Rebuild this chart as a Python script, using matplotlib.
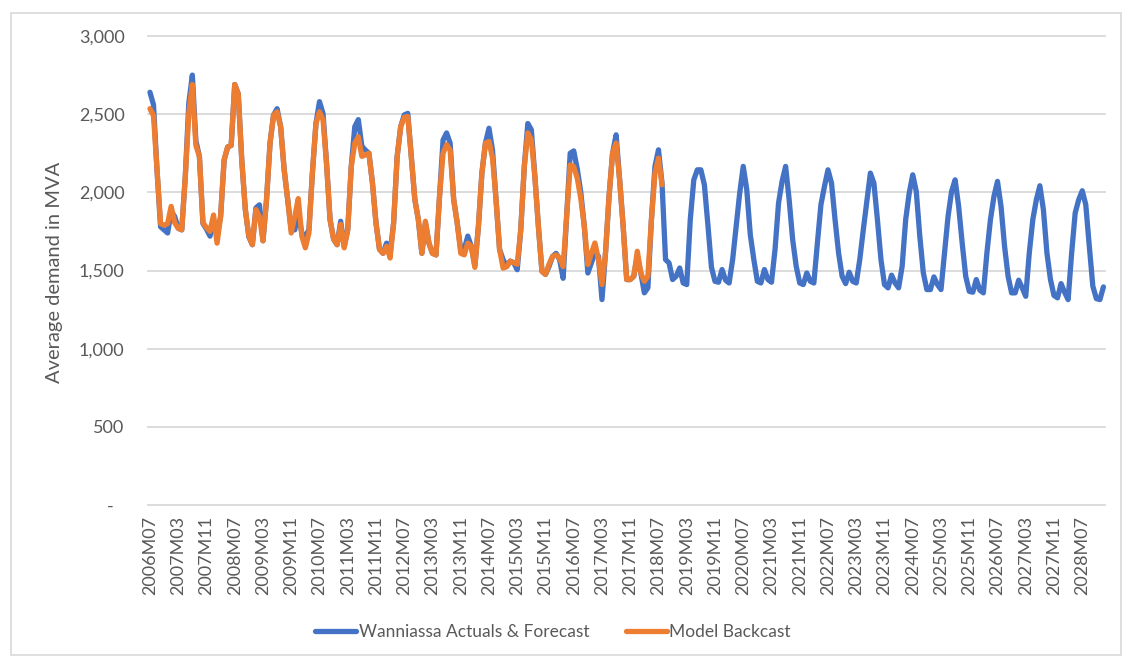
import matplotlib
matplotlib.use("Agg")
import matplotlib.pyplot as plt
from matplotlib.lines import Line2D
from matplotlib.patches import Rectangle
from matplotlib.transforms import ScaledTranslation
import pandas as pd

plt.rcParams["font.family"] = ["Lato", "DejaVu Sans"]

# Monthly categories, 2006M07 .. 2029M01
months = [f"{p.year}M{p.month:02d}" for p in pd.period_range("2006-07", periods=271, freq="M")]

# Wanniassa average demand (MVA): actuals to mid-2018, forecast afterwards
actuals_forecast = [
    2640, 2560, 2140, 1780, 1760, 1740, 1880, 1845, 1770, 1760, 2100, 2570,
    2750, 2330, 2230, 1800, 1765, 1720, 1825, 1720, 1845, 2205, 2290, 2300,
    2690, 2630, 2205, 1890, 1715, 1665, 1900, 1920, 1690, 1950, 2315, 2495,
    2535, 2420, 2145, 1955, 1760, 1760, 1865, 1740, 1720, 1760, 2125, 2440,
    2580, 2505, 2185, 1825, 1700, 1665, 1815, 1655, 1760, 2165, 2420, 2465,
    2295, 2270, 2250, 2060, 1805, 1635, 1610, 1675, 1610, 1805, 2230, 2420,
    2495, 2505, 2230, 1955, 1825, 1610, 1805, 1675, 1610, 1600, 1975, 2335,
    2380, 2315, 1955, 1805, 1635, 1635, 1720, 1655, 1530, 1780, 2125, 2315,
    2410, 2270, 1955, 1635, 1570, 1525, 1560, 1550, 1505, 1760, 2165, 2440,
    2400, 2100, 1780, 1495, 1475, 1525, 1590, 1610, 1570, 1450, 1845, 2250,
    2265, 2150, 2000, 1782, 1484, 1548, 1612, 1591, 1314, 1612, 1974, 2251,
    2368, 2080, 1782, 1442, 1442, 1463, 1591, 1484, 1357, 1389, 1825, 2166,
    2272, 2059, 1570, 1548, 1442, 1463, 1516, 1420, 1410, 1825, 2080, 2144,
    2144, 2048, 1790, 1520, 1431, 1425, 1506, 1438, 1420, 1570, 1782, 1995,
    2166, 2017, 1729, 1570, 1431, 1420, 1506, 1442, 1425, 1633, 1932, 2070,
    2166, 1953, 1697, 1527, 1420, 1410, 1484, 1431, 1420, 1676, 1921, 2038,
    2144, 2059, 1825, 1612, 1463, 1416, 1489, 1431, 1420, 1570, 1761, 1942,
    2123, 2059, 1825, 1570, 1410, 1389, 1470, 1420, 1389, 1527, 1825, 1995,
    2112, 2006, 1719, 1484, 1378, 1378, 1459, 1410, 1378, 1612, 1846, 2006,
    2080, 1910, 1676, 1463, 1367, 1361, 1442, 1374, 1357, 1612, 1825, 1974,
    2070, 1910, 1655, 1463, 1357, 1357, 1438, 1389, 1335, 1612, 1825, 1953,
    2042, 1889, 1612, 1442, 1340, 1325, 1416, 1361, 1314, 1612, 1868, 1953,
    2010, 1921, 1655, 1399, 1320, 1314, 1395,
]

# Model backcast (MVA), 2006M07 .. 2018M08
model_backcast = [
    2535, 2490, 2150, 1800, 1790, 1800, 1910, 1805, 1770, 1760, 2100, 2505,
    2690, 2300, 2230, 1805, 1775, 1750, 1855, 1675, 1845, 2210, 2290, 2300,
    2690, 2630, 2205, 1890, 1720, 1665, 1890, 1845, 1690, 1950, 2315, 2495,
    2515, 2420, 2145, 1955, 1740, 1845, 1960, 1720, 1645, 1740, 2125, 2440,
    2515, 2465, 2185, 1825, 1700, 1665, 1795, 1645, 1760, 2165, 2315, 2355,
    2230, 2240, 2250, 2060, 1805, 1635, 1610, 1655, 1580, 1805, 2230, 2420,
    2480, 2485, 2230, 1955, 1825, 1610, 1815, 1675, 1610, 1600, 1975, 2250,
    2305, 2270, 1955, 1805, 1610, 1600, 1675, 1655, 1520, 1780, 2125, 2315,
    2325, 2220, 1955, 1635, 1515, 1525, 1560, 1550, 1540, 1760, 2165, 2380,
    2335, 2100, 1780, 1495, 1475, 1540, 1590, 1600, 1580, 1525, 1845, 2175,
    2165, 2090, 1960, 1782, 1538, 1612, 1676, 1570, 1410, 1612, 1974, 2251,
    2315, 2080, 1782, 1442, 1442, 1463, 1623, 1484, 1431, 1463, 1825, 2123,
    2219, 2048,
]

y_ticks = [0, 500, 1000, 1500, 2000, 2500, 3000]
label_every = 8

BLUE = "#4472C4"
ORANGE = "#ED7D31"
GRID = "#D9D9D9"
TEXT = "#595959"

W, H = 1123, 657
fig = plt.figure(figsize=(W / 100, H / 100), dpi=100)
fig.patch.set_facecolor("white")

# Plot area in pixel terms
left_px, right_px, top_px, bottom_px = 148.2, 1105.2, 36, 505
ax = fig.add_axes([left_px / W, 1 - bottom_px / H,
                   (right_px - left_px) / W, (bottom_px - top_px) / H])

x_all = list(range(len(actuals_forecast)))
x_back = list(range(len(model_backcast)))

ax.set_xlim(-0.5, len(months) - 0.5)
ax.set_ylim(y_ticks[0], y_ticks[-1])

for v in y_ticks:
    ax.axhline(v, color=GRID, lw=1.3, zorder=0, clip_on=False)

line_kw = dict(lw=3.8, solid_joinstyle="round", solid_capstyle="round", clip_on=False)
ax.plot(x_all, actuals_forecast, color=BLUE, zorder=3, **line_kw)
ax.plot(x_back, model_backcast, color=ORANGE, zorder=4, **line_kw)

for s in ax.spines.values():
    s.set_visible(False)

ax.set_yticks(y_ticks)
ax.set_yticklabels(["-" if v == 0 else f"{v:,}" for v in y_ticks])
ax.tick_params(axis="y", length=0, pad=17, labelsize=13, labelcolor=TEXT)

tick_pos = list(range(0, len(months), label_every))
ax.set_xticks(tick_pos)
ax.set_xticklabels([months[i] for i in tick_pos], rotation=90, va="top", ha="center")
ax.tick_params(axis="x", length=0, pad=8, labelsize=13, labelcolor=TEXT)

# Accounting-style dash for zero sits left of the numbers
zero_lbl = ax.get_yticklabels()[0]
zero_lbl.set_transform(zero_lbl.get_transform() +
                       ScaledTranslation(-11 / 100, 0, fig.dpi_scale_trans))

fig.text(55 / W, 1 - 272 / H, "Average demand in MVA", rotation=90,
         ha="center", va="center", fontsize=14.5, color=TEXT)

handles = [Line2D([], [], color=BLUE, lw=3.8, solid_capstyle="round"),
           Line2D([], [], color=ORANGE, lw=3.8, solid_capstyle="round")]
fig.legend(handles, ["Wanniassa Actuals & Forecast", "Model Backcast"],
           loc="center", bbox_to_anchor=(553 / W, 1 - 632 / H), ncol=2,
           frameon=False, fontsize=12.5, labelcolor=TEXT,
           handlelength=2.35, handletextpad=0.15, columnspacing=2.1)

# Chart-area border
fig.add_artist(Rectangle((11 / W, 2 / H), (1121 - 11) / W, (655 - 13) / H,
                         transform=fig.transFigure, fill=False,
                         edgecolor=GRID, lw=1.2))

fig.savefig("out.png", dpi=100)
